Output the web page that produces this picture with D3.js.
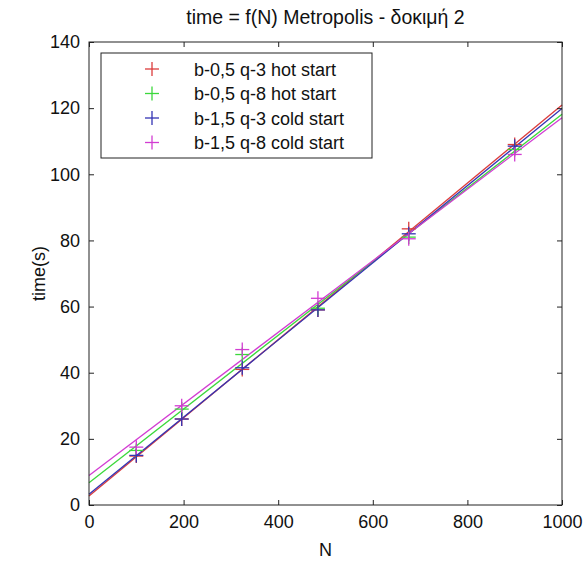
<!DOCTYPE html>
<html>
<head>
<meta charset="utf-8">
<script src="https://cdn.jsdelivr.net/npm/d3@7"></script>
<style>
body { margin:0; background:#fff; }
svg text { font-family: "Liberation Sans", Arial, sans-serif; }
</style>
</head>
<body>
<div id="chart"></div>
<script>
// N values (squares of lattice side)
var N = [100, 196, 324, 484, 676, 900];
var seriesNames = ["b-0,5 q-3 hot start", "b-0,5 q-8 hot start", "b-1,5 q-3 cold start", "b-1,5 q-8 cold start"];
var seriesColors = ["#dc3c3c", "#3cd83c", "#3434b4", "#d23cd2"];
var timeRed   = [14.8, 26, 41, 59, 83.5, 109];
var timeGreen = [16.5, 29, 45.5, 59.5, 81, 107.5];
var timeBlue  = [15, 26, 41.5, 59, 82, 108.5];
var timeMag   = [17.5, 30, 47, 62.5, 80.5, 106];
var xTicks = [0, 200, 400, 600, 800, 1000];
var yTicks = [0, 20, 40, 60, 80, 100, 120, 140];

var series = [timeRed, timeGreen, timeBlue, timeMag];

var width = 588, height = 562;
var m = {left: 89, right: 26, top: 42, bottom: 57};
var fs = 18;

var svg = d3.select("#chart").append("svg")
  .attr("width", width).attr("height", height);

var x = d3.scaleLinear().domain([0, 1000]).range([m.left, width - m.right]);
var y = d3.scaleLinear().domain([0, 140]).range([height - m.bottom, m.top]);

// least squares line like polyfit(N, t, 1)
function fit(ys) {
  var mx = d3.mean(N), my = d3.mean(ys);
  var sxy = d3.sum(N, function(v, i){ return (v - mx) * (ys[i] - my); });
  var sxx = d3.sum(N, function(v){ return (v - mx) * (v - mx); });
  var b = sxy / sxx;
  return {a: my - b * mx, b: b};
}

var plot = svg.append("g");
var line = d3.line().x(function(d){ return x(d[0]); }).y(function(d){ return y(d[1]); });

series.forEach(function(s, k) {
  var f = fit(s);
  plot.append("path")
    .attr("d", line([[0, f.a], [1000, f.a + f.b * 1000]]))
    .attr("fill", "none").attr("stroke", seriesColors[k]).attr("stroke-width", 1.3);
});

var cs = 7;
series.forEach(function(s, k) {
  var g = plot.append("g").attr("stroke", seriesColors[k]).attr("stroke-width", 1.3);
  s.forEach(function(v, i) {
    var px = x(N[i]), py = y(v);
    g.append("line").attr("x1", px - cs).attr("x2", px + cs).attr("y1", py).attr("y2", py);
    g.append("line").attr("x1", px).attr("x2", px).attr("y1", py - cs).attr("y2", py + cs);
  });
});

// axes box with inward ticks
var tl = 5;
var ax = svg.append("g").attr("stroke", "#222").attr("stroke-width", 1);
ax.append("rect").attr("x", x(0)).attr("y", y(140))
  .attr("width", x(1000) - x(0)).attr("height", y(0) - y(140)).attr("fill", "none");

svg.append("g").attr("transform", "translate(0," + y(0) + ")")
  .call(d3.axisBottom(x).tickValues(xTicks).tickFormat(d3.format("d")).tickSizeInner(-tl).tickSizeOuter(0).tickPadding(10))
  .call(function(g){ g.select(".domain").remove(); g.selectAll("text").attr("font-size", fs).attr("fill", "#111"); });
svg.append("g").attr("transform", "translate(0," + y(140) + ")")
  .call(d3.axisTop(x).tickValues(xTicks).tickSize(-tl).tickFormat(""))
  .call(function(g){ g.select(".domain").remove(); });
svg.append("g").attr("transform", "translate(" + x(0) + ",0)")
  .call(d3.axisLeft(y).tickValues(yTicks).tickSizeInner(-tl).tickSizeOuter(0).tickPadding(9))
  .call(function(g){ g.select(".domain").remove(); g.selectAll("text").attr("font-size", fs).attr("fill", "#111"); });
svg.append("g").attr("transform", "translate(" + x(1000) + ",0)")
  .call(d3.axisRight(y).tickValues(yTicks).tickSize(-tl).tickFormat(""))
  .call(function(g){ g.select(".domain").remove(); });
svg.selectAll(".tick line").attr("stroke", "#222");

// labels
svg.append("text").attr("x", (x(0) + x(1000)) / 2).attr("y", 24)
  .attr("text-anchor", "middle").attr("font-size", 19.5).attr("fill", "#111")
  .text("time = f(N) Metropolis - δοκιμή 2");
svg.append("text").attr("x", (x(0) + x(1000)) / 2).attr("y", 556)
  .attr("text-anchor", "middle").attr("font-size", fs).attr("fill", "#111").text("N");
svg.append("text").attr("transform", "translate(45," + (y(70)) + ") rotate(-90)")
  .attr("text-anchor", "middle").attr("font-size", fs).attr("fill", "#111").text("time(s)");

// legend
var lg = svg.append("g").attr("transform", "translate(101,53)");
lg.append("rect").attr("width", 271).attr("height", 105)
  .attr("fill", "#fff").attr("stroke", "#222").attr("stroke-width", 1);
seriesNames.forEach(function(name, k) {
  var ry = 16 + k * 24.5;
  var g = lg.append("g").attr("stroke", seriesColors[k]).attr("stroke-width", 1.3);
  g.append("line").attr("x1", 51 - cs).attr("x2", 51 + cs).attr("y1", ry).attr("y2", ry);
  g.append("line").attr("x1", 51).attr("x2", 51).attr("y1", ry - cs).attr("y2", ry + cs);
  lg.append("text").attr("x", 93).attr("y", ry + 6.5).attr("font-size", fs).attr("fill", "#111").text(name);
});
</script>
</body>
</html>
